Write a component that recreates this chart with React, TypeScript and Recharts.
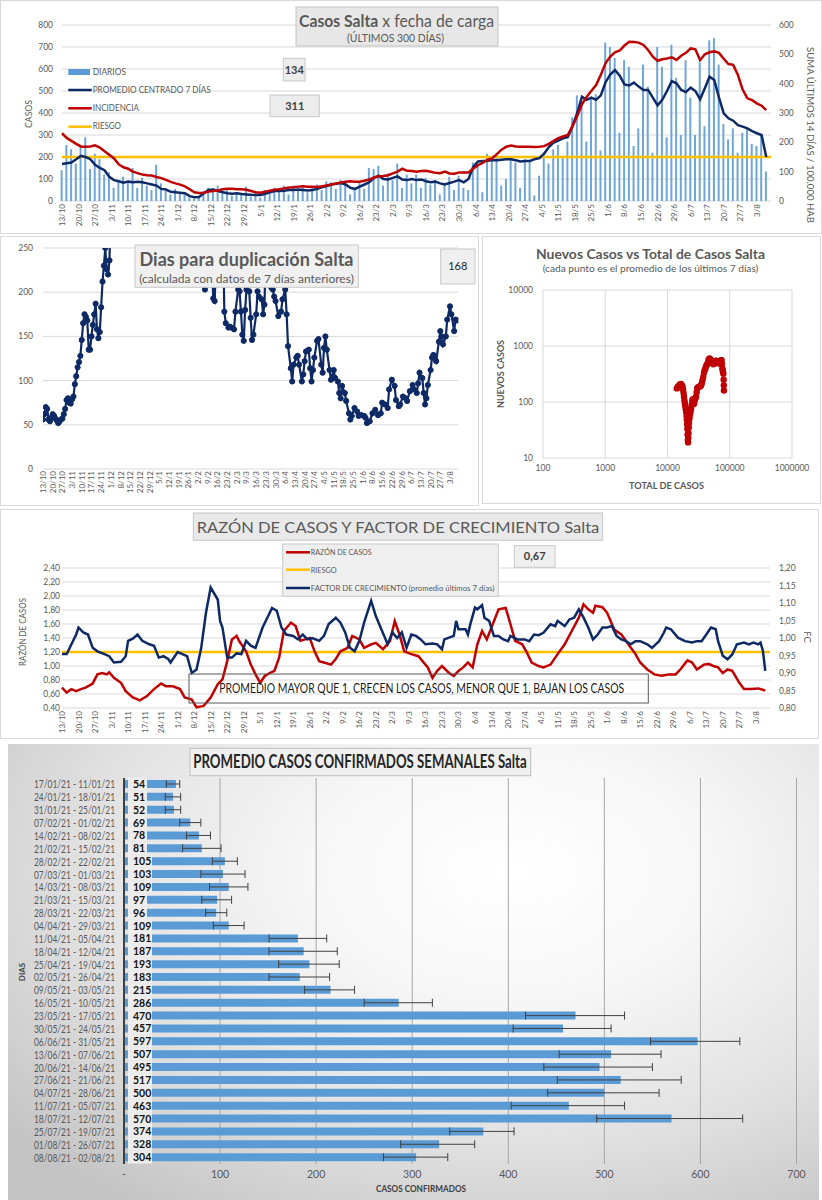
import React from 'react';
import {
  ComposedChart, LineChart, ScatterChart, BarChart, Bar, Line, Scatter,
  XAxis, YAxis, CartesianGrid, ReferenceLine, ErrorBar, LabelList,
} from 'recharts';

const FONT = 'Lato, "Open Sans", Arial, sans-serif';
const NAVY = '#0e2a66';
const RED = '#c00000';
const YELLOW = '#ffc000';
const GRAY_TXT = '#595959';

// ---------- shared weekly date ticks (day 0 = 13/10/2020)
const FECHAS_SEMANA = ['13/10','20/10','27/10','3/11','10/11','17/11','24/11','1/12','8/12','15/12','22/12','29/12','5/1','12/1','19/1','26/1','2/2','9/2','16/2','23/2','2/3','9/3','16/3','23/3','30/3','6/4','13/4','20/4','27/4','4/5','11/5','18/5','25/5','1/6','8/6','15/6','22/6','29/6','6/7','13/7','20/7','27/7','3/8'];
const DIAS_TICK = FECHAS_SEMANA.map((_, i) => i * 7);

// ---------- chart 1: casos por fecha de carga (one value every 2 days)
const PASO_DIAS = 2;
const DIARIOS = [
  140,255,235,170,250,290,145,215,190,120,
  130,60,95,110,85,150,60,105,70,50,
  165,80,45,30,55,35,30,15,10,20,
  45,60,55,70,35,50,25,40,30,65,
  20,35,15,50,40,60,50,70,30,70,
  50,60,40,65,75,50,90,85,55,95,
  75,30,60,85,55,150,145,160,70,125,
  95,170,60,120,80,120,60,105,75,95,
  30,75,110,50,115,60,50,175,170,40,
  215,190,215,70,100,195,175,60,190,185,
  25,115,220,170,235,255,195,270,380,480,
  450,270,470,485,230,720,700,650,310,640,
  610,250,330,620,520,220,700,610,290,710,
  560,300,640,470,300,630,340,730,740,620,
  350,280,330,220,310,330,260,250,300,134,
];
const PROMEDIO_7D = [
  168,172,175,190,205,200,190,165,150,140,
  110,95,90,83,88,85,88,85,80,75,
  70,55,52,42,40,38,35,22,17,18,
  35,50,52,45,40,35,33,35,32,30,
  28,27,27,33,40,45,45,47,50,50,
  52,50,48,50,55,62,68,75,78,82,
  75,60,55,65,75,85,105,115,100,98,
  105,112,98,95,100,95,98,90,85,88,
  80,75,82,88,95,85,100,155,180,182,
  183,185,185,188,190,190,185,180,182,182,
  190,195,215,245,265,275,285,290,340,400,
  474,460,470,460,480,540,575,595,570,530,
  525,538,520,505,505,470,435,460,500,545,
  535,505,495,515,500,462,512,565,550,470,
  398,376,365,345,338,330,318,308,300,200,
];
const INCIDENCIA_14D = [
  231,215,205,195,186,185,186,190,182,170,
  158,145,125,115,110,100,95,90,88,87,
  82,78,72,65,60,56,50,40,30,27,
  28,32,34,36,40,42,42,40,40,38,
  34,30,28,32,35,38,40,43,46,47,
  49,50,49,49,48,50,53,56,60,63,
  66,67,66,66,69,73,80,84,85,88,
  94,100,110,103,102,100,102,103,100,96,
  95,100,94,93,97,97,97,110,122,130,
  140,145,160,175,185,189,186,185,185,185,
  184,185,187,195,205,214,220,225,255,290,
  330,355,376,395,430,470,492,507,513,530,
  543,542,540,532,515,492,478,483,486,490,
  481,495,505,520,517,480,500,507,510,505,
  485,467,464,430,380,350,344,333,325,310,
];
const RIESGO_INCIDENCIA = 150;
const ULTIMO_DIARIO = '134';
const ULTIMA_INCIDENCIA = '311';
const TICKS_CASOS = [0, 100, 200, 300, 400, 500, 600, 700, 800];
const TICKS_INCIDENCIA = [0, 100, 200, 300, 400, 500, 600];

// ---------- chart 2: días para duplicación [día, valor]
const DIAS_DUPLICACION: [number, number][] = [
  [0,56],[1,62],[2,70],[3,68],[4,56],[5,54],[6,58],[7,62],[8,60],[9,57],[10,55],[11,52],[12,54],[13,56],[14,57],[15,62],[16,68],[17,78],[18,80],[19,75],[20,74],[21,79],[22,82],[23,96],[24,105],[25,115],[26,121],[27,128],[28,146],[29,165],[30,175],[31,172],[32,168],[33,135],[34,135],[35,150],[36,163],[37,175],[38,187],[39,158],[40,148],[41,155],[42,183],[43,212],[44,230],[45,250],[46,226],[47,220],[48,236],[49,300],
  [60,420],[80,560],[100,500],[114,300],[117,203],[119,350],[123,193],[124,190],[127,320],[130,270],[131,178],[132,165],[134,160],[135,161],[136,160],[138,158],[139,178],[141,203],[142,201],[143,178],[144,152],[145,145],[146,180],[147,203],[149,201],[150,171],[151,146],[152,152],[154,175],[155,201],[156,195],[158,192],[159,175],[160,186],[162,330],[165,205],[166,203],[167,195],[168,190],[170,173],[172,178],[173,192],[175,203],[176,175],
  [177,139],[179,114],[180,99],[181,118],[183,126],[184,128],[185,118],[187,99],[188,107],[189,122],[190,133],[192,135],[193,114],[194,99],[195,112],[196,126],[198,145],[199,147],[201,118],[202,109],[203,137],[204,150],[205,135],[207,112],[208,101],[210,112],[211,103],[213,99],[214,86],[215,80],[216,94],[218,86],[219,77],[221,63],[222,56],[223,60],[225,69],[227,65],[228,60],[230,61],[232,60],[233,58],[234,52],[236,54],[238,63],[240,67],[242,61],[244,63],[245,75],[247,73],[249,69],[250,90],[252,101],[254,94],[255,78],[257,71],[258,73],[260,82],[262,80],[263,77],[265,88],[267,95],[268,90],[270,86],[271,97],[272,109],[274,103],[275,86],[276,73],[277,80],[278,95],[280,112],[281,126],[282,129],[283,126],[284,122],[286,144],[287,156],[288,150],[289,141],[291,150],[292,169],[294,184],[295,175],[297,156],[298,169],[299,168],
];
const ULTIMA_DUPLICACION = '168';
const TICKS_DUP = [0, 50, 100, 150, 200, 250];

// ---------- chart 3: nuevos casos vs total [total, nuevos]
const NUEVOS_VS_TOTAL: [number, number][] = [
  [14100,175],[14600,185],[15000,192],[15500,200],[15900,205],[16300,210],[16700,205],[17100,195],[17500,185],[17800,165],[18100,145],[18400,125],[18700,108],[19000,95],[19300,85],[19600,75],[19900,66],[20200,56],[20400,48],[20600,40],[20800,33],[21000,26],[21200,21],[21400,19],[21600,23],[21800,28],[22000,35],[22200,42],[22500,50],[22800,57],[23200,63],[23600,70],[24000,78],[24500,90],[25000,105],[25500,112],[26000,100],[26500,92],[27000,98],[27600,112],[28200,118],[28800,125],[29400,150],[30000,175],[30800,182],[31600,185],[32500,188],[33500,192],[34500,198],[35500,215],[36500,245],[37500,280],[38500,330],[39500,370],[40500,390],[41500,430],[42500,460],[43500,470],[44500,500],[45500,560],[46500,590],[47500,600],[48500,580],[50000,560],[51500,530],[53000,510],[54500,470],[56000,480],[57500,510],[59000,540],[60500,545],[62000,510],[63500,495],[65000,505],[66500,520],[68000,515],[69500,480],[71000,505],[72500,555],[74000,560],[75000,480],[76000,400],[77000,370],[78000,345],[79000,320],[79800,250],[80300,200],[80600,160],
];
const TICKS_TOTAL = [100, 1000, 10000, 100000, 1000000];
const TICKS_NUEVOS = [10, 100, 1000, 10000];

// ---------- chart 4: razón de casos (left) y factor de crecimiento (right) [día, valor]
const RAZON_CASOS: [number, number][] = [
  [0,0.69],[2,0.62],[4,0.67],[6,0.64],[8,0.67],[10,0.69],[13,0.75],[15,0.88],[17,0.90],[19,0.88],[20,0.91],[22,0.83],[25,0.76],[27,0.64],[30,0.55],[33,0.51],[36,0.57],[39,0.67],[42,0.75],[44,0.71],[47,0.71],[50,0.67],[52,0.55],[55,0.52],[57,0.41],[60,0.43],[63,0.55],[66,0.74],[68,0.81],[70,1.07],[72,1.38],[74,1.43],[75,1.36],[78,1.21],[80,1.02],[82,0.88],[84,0.76],[86,0.86],[88,0.90],[90,0.93],[92,1.12],[94,1.50],[97,1.62],[99,1.57],[101,1.36],[103,1.38],[105,1.40],[107,1.21],[109,1.07],[111,1.05],[114,1.02],[116,1.10],[118,1.21],[121,1.26],[123,1.43],[126,1.38],[128,1.26],[131,1.31],[133,1.33],[136,1.24],[139,1.36],[141,1.64],[143,1.45],[145,1.21],
  [148,1.17],[151,1.14],[155,0.98],[157,0.83],[159,0.93],[161,1.00],[164,0.90],[166,0.86],[168,0.93],[170,0.98],[172,1.05],[174,0.98],[176,1.31],[178,1.50],[180,1.38],[183,1.64],[185,1.81],[188,1.83],[190,1.60],[192,1.36],[195,1.31],[197,1.19],[199,1.05],[202,1.00],[204,0.98],[207,1.02],[210,1.17],[213,1.31],[216,1.50],[219,1.69],[221,1.88],[223,1.81],[225,1.76],[226,1.86],[229,1.84],[231,1.76],[234,1.52],[237,1.45],[240,1.31],[243,1.17],[245,1.05],[248,0.95],[251,0.88],[254,0.86],[257,0.88],[260,0.88],[262,0.95],[265,1.08],[267,1.05],[269,0.95],[272,1.02],[274,1.03],[276,1.00],[278,0.98],[280,0.90],[282,0.95],[284,0.93],[287,0.76],[289,0.67],[292,0.67],[295,0.68],[298,0.65],
];
const FACTOR_CRECIMIENTO: [number, number][] = [
  [0,0.954],[2,0.954],[4,0.982],[6,1.010],[7,1.030],[9,1.016],[11,1.010],[13,0.972],[15,0.962],[18,0.954],[20,0.948],[22,0.930],[25,0.932],[27,0.948],[28,0.992],[30,0.998],[32,1.010],[34,0.992],[37,0.982],[39,0.978],[41,0.944],[43,0.948],[45,0.940],[46,0.930],[49,0.960],[51,0.954],[53,0.948],[55,0.900],[57,0.910],[59,0.972],[61,1.072],[63,1.144],[66,1.110],[67,1.048],[68,1.030],[70,0.944],[72,0.944],[74,0.956],[76,0.954],[78,0.992],[80,0.978],[82,0.972],[85,1.030],[87,1.058],[89,1.086],[91,1.078],[93,1.030],[95,1.010],[98,1.006],[100,0.996],[102,1.010],[104,0.996],[106,1.000],[109,0.992],[111,1.006],[113,1.040],[116,1.058],[118,1.044],[120,1.016],[122,0.972],[124,0.962],[126,0.992],[128,1.044],[131,1.106],[133,1.062],[135,1.030],[138,0.982],[140,1.016],[142,1.000],[144,1.016],[146,0.972],
  [148,1.010],[150,1.006],[152,0.996],[154,0.982],[157,0.984],[159,0.982],[161,0.968],[162,0.996],[164,1.001],[166,1.006],[167,1.049],[168,1.025],[171,1.025],[172,1.010],[173,1.039],[175,1.087],[176,1.082],[178,1.094],[179,1.058],[181,1.049],[183,1.006],[185,1.006],[187,0.996],[189,0.991],[190,1.006],[193,0.996],[196,0.996],[198,0.991],[200,1.010],[202,1.008],[204,1.015],[207,1.039],[209,1.034],[210,1.049],[213,1.034],[215,1.053],[217,1.058],[219,1.082],[221,1.058],[223,1.030],[225,0.996],[227,1.010],[229,1.030],[231,1.030],[233,1.034],[235,1.006],[237,0.996],[239,0.991],[241,0.982],[243,0.991],[245,0.991],[248,0.982],[250,0.972],[253,0.991],[255,1.015],[256,1.030],[258,1.025],[261,1.001],[264,0.991],[267,0.987],[269,0.991],[271,0.991],[273,1.010],[275,1.030],[277,1.025],[278,0.991],[280,0.949],[282,0.939],[284,0.953],[286,0.982],[289,0.987],[291,0.982],[293,0.987],[295,0.982],[296,0.987],[297,0.963],[298,0.906],
];
const RIESGO_RAZON = 1.2;
const ULTIMA_RAZON = '0,67';
const TICKS_RAZON = [0.4, 0.6, 0.8, 1.0, 1.2, 1.4, 1.6, 1.8, 2.0, 2.2, 2.4];
const TICKS_FC = [0.8, 0.85, 0.9, 0.95, 1.0, 1.05, 1.1, 1.15, 1.2];

// ---------- chart 5: promedio semanal
const SEMANAS = ['17/01/21 - 11/01/21','24/01/21 - 18/01/21','31/01/21 - 25/01/21','07/02/21 - 01/02/21','14/02/21 - 08/02/21','21/02/21 - 15/02/21','28/02/21 - 22/02/21','07/03/21 - 01/03/21','14/03/21 - 08/03/21','21/03/21 - 15/03/21','28/03/21 - 22/03/21','04/04/21 - 29/03/21','11/04/21 - 05/04/21','18/04/21 - 12/04/21','25/04/21 - 19/04/21','02/05/21 - 26/04/21','09/05/21 - 03/05/21','16/05/21 - 10/05/21','23/05/21 - 17/05/21','30/05/21 - 24/05/21','06/06/21 - 31/05/21','13/06/21 - 07/06/21','20/06/21 - 14/06/21','27/06/21 - 21/06/21','04/07/21 - 28/06/21','11/07/21 - 05/07/21','18/07/21 - 12/07/21','25/07/21 - 19/07/21','01/08/21 - 26/07/21','08/08/21 - 02/08/21'];
const PROMEDIO_SEMANAL = [54,51,52,69,78,81,105,103,109,97,96,109,181,187,193,183,215,286,470,457,597,507,495,517,500,463,570,374,328,304];
const MINIMO_SEMANAL = [44,43,43,58,65,61,92,80,89,81,85,93,151,151,161,151,188,250,418,405,548,453,437,451,441,403,492,339,288,270];
const MAXIMO_SEMANAL = [58,59,59,80,90,101,118,126,129,112,107,125,211,222,224,214,240,321,521,507,641,559,550,580,557,521,644,406,365,337];
const TICKS_SEMANAL = [0, 100, 200, 300, 400, 500, 600, 700];

// ---------- tables built from the arrays
const TABLA_CASOS = DIARIOS.map((v, i) => ({
  d: i * PASO_DIAS, diarios: v, prom: PROMEDIO_7D[i], inc: INCIDENCIA_14D[i],
}));
function mergeSeries(series: Record<string, [number, number][]>) {
  const map = new Map<number, any>();
  Object.entries(series).forEach(([key, pts]) => {
    pts.forEach(([d, v]) => {
      const row = map.get(d) ?? { d };
      row[key] = v;
      map.set(d, row);
    });
  });
  return Array.from(map.values()).sort((a, b) => a.d - b.d);
}
const TABLA_DUP = DIAS_DUPLICACION.map(([d, v]) => ({ d, v }));
const TABLA_RAZON = mergeSeries({ razon: RAZON_CASOS, fc: FACTOR_CRECIMIENTO });
const TABLA_SCATTER = NUEVOS_VS_TOTAL.map(([x, y]) => ({ x, y }));
const TABLA_SEMANAS = SEMANAS.map((s, i) => ({
  semana: s,
  v: PROMEDIO_SEMANAL[i],
  err: [PROMEDIO_SEMANAL[i] - MINIMO_SEMANAL[i], MAXIMO_SEMANAL[i] - PROMEDIO_SEMANAL[i]],
}));

const coma2 = (v: number) => v.toFixed(2).replace('.', ',');

const RotTick = (props: any) => {
  const { x, y, payload } = props;
  const lbl = FECHAS_SEMANA[Math.round(payload.value / 7)] ?? '';
  return (
    <text x={x} y={y} transform={`rotate(-90 ${x} ${y})`} textAnchor="end"
      dominantBaseline="central" fontSize={8} fill={GRAY_TXT} fontFamily={FONT}>{lbl}</text>
  );
};

const SemanaTick = (props: any) => {
  const { x, y, payload } = props;
  return (
    <text x={x} y={y} textAnchor="end" dominantBaseline="central" fontSize={10.5}
      textLength={81} lengthAdjust="spacingAndGlyphs"
      fill={GRAY_TXT} fontFamily={FONT}>{payload.value}</text>
  );
};

const axTick = (size: number) => ({ fontSize: size, fill: GRAY_TXT, fontFamily: FONT });

const ScatterDot = (p: any) => <circle cx={p.cx} cy={p.cy} r={3.2} fill={RED} />;

const EtiquetaValor = (p: any) => {
  const vb = p.viewBox ?? p;
  const { x, y, height } = vb;
  const value = p.value;
  const w = String(value).length > 2 ? 24 : 19;
  const band = 12.87;
  const cy = y + height / 2;
  return (
    <g>
      <rect x={x + 4} y={cy - band / 2} width={w} height={band} fill="#ececec" />
      <text x={x + 9} y={cy} dominantBaseline="central" fontSize={10.5} fontWeight={700}
        fill="#111" fontFamily={FONT}>{value}</text>
    </g>
  );
};

type TP = {
  x: number; y: number; children: React.ReactNode; size?: number; weight?: number;
  fill?: string; anchor?: 'start' | 'middle' | 'end'; len?: number; rot?: number; base?: string;
};
const T = ({ x, y, children, size = 9, weight = 400, fill = GRAY_TXT, anchor = 'start', len, rot, base }: TP) => (
  <text x={x} y={y} fontSize={size} fontWeight={weight} fill={fill} textAnchor={anchor}
    fontFamily={FONT} textLength={len} lengthAdjust={len ? 'spacingAndGlyphs' : undefined}
    dominantBaseline={base as any}
    transform={rot ? `rotate(${rot} ${x} ${y})` : undefined}>{children}</text>
);

export default function App() {
  return (
    <div style={{ position: 'absolute', left: 0, top: 0, width: 822, height: 1200, background: '#ffffff', fontFamily: FONT, overflow: 'hidden' }}>
      {/* gradient background of panel 5 */}
      <div style={{
        position: 'absolute', left: 8, top: 744, width: 811, height: 456,
        background: 'radial-gradient(ellipse 80% 90% at 62% 28%, #ffffff 0%, #f7f7f7 30%, #e2e2e2 65%, #c4c4c4 100%)',
      }} />

      {/* Chart 1 */}
      <div style={{ position: 'absolute', left: 0, top: 0 }}>
        <ComposedChart width={822} height={234} data={TABLA_CASOS} margin={{ top: 25, right: 11, bottom: 1, left: 12 }}>
          <CartesianGrid yAxisId="L" vertical={false} stroke="#d9d9d9" />
          <XAxis dataKey="d" type="number" domain={[0, 300]} ticks={DIAS_TICK} interval={0} tick={RotTick}
            tickLine={false} axisLine={false} height={32} tickSize={0} tickMargin={3} />
          <YAxis yAxisId="L" domain={[0, 800]} ticks={TICKS_CASOS} width={50} tickLine={false} axisLine={false}
            tickSize={0} tickMargin={9} tick={axTick(8.5)} interval={0} />
          <YAxis yAxisId="R" orientation="right" domain={[0, 600]} ticks={TICKS_INCIDENCIA} width={40} tickLine={false}
            axisLine={false} tickSize={0} tickMargin={8} tick={axTick(8.5)} interval={0} />
          <Bar yAxisId="L" dataKey="diarios" fill="#6ea6da" barSize={2} isAnimationActive={false} />
          <ReferenceLine yAxisId="R" y={RIESGO_INCIDENCIA} stroke={YELLOW} strokeWidth={2.5} />
          <Line yAxisId="L" dataKey="prom" stroke={NAVY} strokeWidth={2.5} dot={false} activeDot={false} isAnimationActive={false} />
          <Line yAxisId="R" dataKey="inc" stroke={RED} strokeWidth={2.5} dot={false} activeDot={false} isAnimationActive={false} />
        </ComposedChart>
      </div>

      {/* Chart 2 */}
      <div style={{ position: 'absolute', left: 0, top: 236 }}>
        <LineChart width={479} height={270} data={TABLA_DUP} margin={{ top: 12, right: 20.7, bottom: 7, left: 3 }}>
          <CartesianGrid vertical={false} stroke="#d9d9d9" />
          <XAxis dataKey="d" type="number" domain={[0, 300]} ticks={DIAS_TICK} interval={0} tick={RotTick}
            tickLine={false} axisLine={false} height={30} tickSize={0} tickMargin={2} allowDataOverflow />
          <YAxis domain={[0, 250]} ticks={TICKS_DUP} allowDataOverflow width={40} tickLine={false} axisLine={false}
            tickSize={0} tickMargin={10} tick={axTick(8.5)} interval={0} />
          <Line dataKey="v" stroke={NAVY} strokeWidth={2.2} isAnimationActive={false} activeDot={false}
            dot={{ r: 2.6, fill: NAVY, stroke: NAVY, strokeWidth: 1 }} />
        </LineChart>
      </div>

      {/* Chart 3 */}
      <div style={{ position: 'absolute', left: 481, top: 236 }}>
        <ScatterChart width={341} height={269} margin={{ top: 54, right: 30, bottom: 27, left: 10 }}>
          <CartesianGrid stroke="#d9d9d9" />
          <XAxis type="number" dataKey="x" scale="log" domain={[100, 1000000]} ticks={TICKS_TOTAL} allowDataOverflow
            interval={0} height={20} tickLine={false} axisLine={false} tickSize={0} tickMargin={7} tick={axTick(8.5)} />
          <YAxis type="number" dataKey="y" scale="log" domain={[10, 10000]} ticks={TICKS_NUEVOS} allowDataOverflow
            interval={0} width={52} tickLine={false} axisLine={false} tickSize={0} tickMargin={10} tick={axTick(8.5)} />
          <Scatter data={TABLA_SCATTER} fill={RED} shape={ScatterDot} isAnimationActive={false} />
        </ScatterChart>
      </div>

      {/* Chart 4 */}
      <div style={{ position: 'absolute', left: 0, top: 509 }}>
        <LineChart width={822} height={229} data={TABLA_RAZON} margin={{ top: 59, right: 12, bottom: 1, left: 14 }}>
          <CartesianGrid yAxisId="L" vertical={false} stroke="#d9d9d9" />
          <XAxis dataKey="d" type="number" domain={[0, 300]} ticks={DIAS_TICK} interval={0} tick={RotTick}
            tickLine={false} axisLine={false} height={29} tickSize={0} tickMargin={3} />
          <YAxis yAxisId="L" domain={[0.4, 2.4]} ticks={TICKS_RAZON} width={48} tickFormatter={coma2} tickLine={false}
            axisLine={false} tickSize={0} tickMargin={2} tick={axTick(8.5)} interval={0} />
          <YAxis yAxisId="R" orientation="right" domain={[0.8, 1.2]} ticks={TICKS_FC} width={40} tickFormatter={coma2}
            tickLine={false} axisLine={false} tickSize={0} tickMargin={9} tick={axTick(8.5)} interval={0} />
          <ReferenceLine yAxisId="L" y={RIESGO_RAZON} stroke={YELLOW} strokeWidth={2.5} />
          <Line yAxisId="L" dataKey="razon" stroke={RED} strokeWidth={2.5} connectNulls dot={false} activeDot={false} isAnimationActive={false} />
          <Line yAxisId="R" dataKey="fc" stroke={NAVY} strokeWidth={2.5} connectNulls dot={false} activeDot={false} isAnimationActive={false} />
        </LineChart>
      </div>

      {/* Chart 5 */}
      <div style={{ position: 'absolute', left: 0, top: 740 }}>
        <BarChart layout="vertical" width={822} height={460} data={TABLA_SEMANAS}
          margin={{ top: 38, right: 25.5, bottom: 16, left: 6 }}>
          <CartesianGrid horizontal={false} stroke="#a6a6a6" />
          <XAxis type="number" domain={[0, 700]} ticks={TICKS_SEMANAL} interval={0}
            tickFormatter={(v: number) => (v === 0 ? '-' : String(v))} height={20} axisLine={false} tickLine={false}
            tickSize={0} tickMargin={7} tick={axTick(10.5)} />
          <YAxis type="category" dataKey="semana" width={118} interval={0} tickLine={false} tickSize={0} tickMargin={9}
            axisLine={{ stroke: '#404040', strokeWidth: 2 }} tick={SemanaTick} />
          <Bar dataKey="v" fill="#5b9bd5" barSize={8} isAnimationActive={false}>
            <ErrorBar dataKey="err" direction="x" width={4} stroke="#404040" strokeWidth={1} />
            <LabelList dataKey="v" content={EtiquetaValor} />
          </Bar>
        </BarChart>
      </div>

      {/* overlay: frames, titles, legends, boxes */}
      <svg width={822} height={1200} style={{ position: 'absolute', left: 0, top: 0, pointerEvents: 'none' }}>
        {/* frames */}
        <rect x={0.5} y={0.5} width={821} height={233} fill="none" stroke="#d9d9d9" />
        <rect x={0.5} y={236.5} width={478} height={269} fill="none" stroke="#d9d9d9" />
        <rect x={482.5} y={236.5} width={338} height={267} fill="none" stroke="#d9d9d9" />
        <rect x={0.5} y={509.5} width={818} height={229} fill="none" stroke="#d9d9d9" />

        {/* panel 1 */}
        <rect x={296} y={7} width={202} height={39} fill="#e7e7e7" stroke="#c3c3c3" />
        <T x={396.5} y={27} size={17} anchor="middle" len={195}>
          <tspan fontWeight={700}>Casos Salta</tspan><tspan> x fecha de carga</tspan>
        </T>
        <T x={395.5} y={41.5} size={10.5} anchor="middle" len={97}>(ÚLTIMOS 300 DÍAS)</T>
        <rect x={68.3} y={69} width={21.7} height={6} fill="#5b9bd5" />
        <line x1={68.3} x2={91.7} y1={90} y2={90} stroke={NAVY} strokeWidth={2.5} />
        <line x1={68.3} x2={91.7} y1={108.3} y2={108.3} stroke={RED} strokeWidth={2.5} />
        <line x1={68.3} x2={91.7} y1={126.7} y2={126.7} stroke={YELLOW} strokeWidth={2.5} />
        <T x={92.7} y={75} size={8.5} len={33.3}>DIARIOS</T>
        <T x={92.7} y={92.7} size={8.5} len={118}>PROMEDIO CENTRADO 7 DÍAS</T>
        <T x={92.7} y={111} size={8.5} len={46.3}>INCIDENCIA</T>
        <T x={92.7} y={129.3} size={8.5} len={28.3}>RIESGO</T>
        <rect x={283.3} y={58.3} width={21.7} height={22.7} fill="#ececec" stroke="#c8c8c8" />
        <T x={294.2} y={73.5} size={11} weight={700} anchor="middle" fill="#404040">{ULTIMO_DIARIO}</T>
        <rect x={270} y={95} width={49.3} height={21.7} fill="#ececec" stroke="#c8c8c8" />
        <T x={294.7} y={110} size={11} weight={700} anchor="middle" fill="#404040">{ULTIMA_INCIDENCIA}</T>
        <T x={28.5} y={114} size={9} anchor="middle" rot={-90} base="central" len={28}>CASOS</T>
        <T x={810.5} y={135} size={9.5} anchor="middle" rot={90} base="central" len={176}>SUMA  ÚLTIMOS 14 DÍAS / 100.000 HAB</T>

        {/* panel 2 */}
        <rect x={135} y={245} width={223.3} height={42.3} fill="#f0f0f0" stroke="#c8c8c8" />
        <T x={246.5} y={265.7} size={18} weight={700} anchor="middle" len={214}>Dias para duplicación Salta</T>
        <T x={246.5} y={283} size={12} anchor="middle" len={214.7}>(calculada con datos de 7 días anteriores)</T>
        <rect x={440.7} y={249} width={34.3} height={35} fill="#efefef" stroke="#c8c8c8" />
        <T x={457.8} y={270} size={11} anchor="middle" fill="#262626">{ULTIMA_DUPLICACION}</T>

        {/* panel 3 */}
        <T x={650.5} y={259} size={13} weight={700} anchor="middle" len={229}>Nuevos Casos vs Total de Casos Salta</T>
        <T x={650.5} y={272.3} size={9} anchor="middle" len={215.6}>(cada punto es el promedio de los últimos 7 días)</T>
        <T x={500} y={374} size={9} weight={700} anchor="middle" rot={-90} base="central" len={68}>NUEVOS CASOS</T>
        <T x={666.5} y={489} size={9} weight={700} anchor="middle" len={75}>TOTAL DE CASOS</T>

        {/* panel 4 */}
        <rect x={193.3} y={513} width={409.4} height={27.3} fill="#e9e9e9" stroke="#c8c8c8" />
        <T x={398} y={533} size={16} anchor="middle" len={402.6}>RAZÓN DE CASOS Y FACTOR DE CRECIMIENTO Salta</T>
        <rect x={282.7} y={544} width={215.6} height={52.3} fill="#efefef" stroke="#c8c8c8" />
        <line x1={286} x2={310} y1={552.3} y2={552.3} stroke={RED} strokeWidth={2.5} />
        <line x1={286} x2={310} y1={569.7} y2={569.7} stroke={YELLOW} strokeWidth={2.5} />
        <line x1={286} x2={310} y1={588} y2={588} stroke={NAVY} strokeWidth={2.5} />
        <T x={310.7} y={555.3} size={8} len={61}>RAZÓN DE CASOS</T>
        <T x={310.7} y={572.7} size={8} len={26}>RIESGO</T>
        <T x={310.7} y={591} size={8} len={183.6}>FACTOR DE CRECIMIENTO (promedio últimos 7 días)</T>
        <rect x={514.3} y={545.7} width={40.7} height={21.6} fill="#efefef" stroke="#c8c8c8" />
        <T x={534.7} y={560} size={11} weight={700} anchor="middle" fill="#404040">{ULTIMA_RAZON}</T>
        <rect x={189} y={674} width={459.3} height={29} fill="none" stroke="#595959" />
        <T x={421.7} y={693} size={12.5} anchor="middle" len={405} fill="#1a1a1a">PROMEDIO MAYOR QUE 1, CRECEN LOS CASOS, MENOR QUE 1, BAJAN LOS CASOS</T>
        <T x={22.5} y={632} size={9.5} anchor="middle" rot={-90} base="central" len={68}>RAZÓN DE CASOS</T>
        <T x={807.5} y={637} size={9.5} anchor="middle" rot={90} base="central">FC</T>

        {/* panel 5 */}
        <rect x={190} y={748.3} width={340.7} height={27.4} fill="#f0f0f0" stroke="#bfbfbf" />
        <T x={360} y={767.7} size={18} weight={700} anchor="middle" len={333.4} fill="#262626">PROMEDIO CASOS CONFIRMADOS SEMANALES Salta</T>
        <T x={22} y={972} size={8} weight={700} anchor="middle" rot={-90} base="central" fill="#404040">DIAS</T>
        <T x={376} y={1191.7} size={9.5} weight={700} len={90} fill="#404040">CASOS CONFIRMADOS</T>
      </svg>
    </div>
  );
}
